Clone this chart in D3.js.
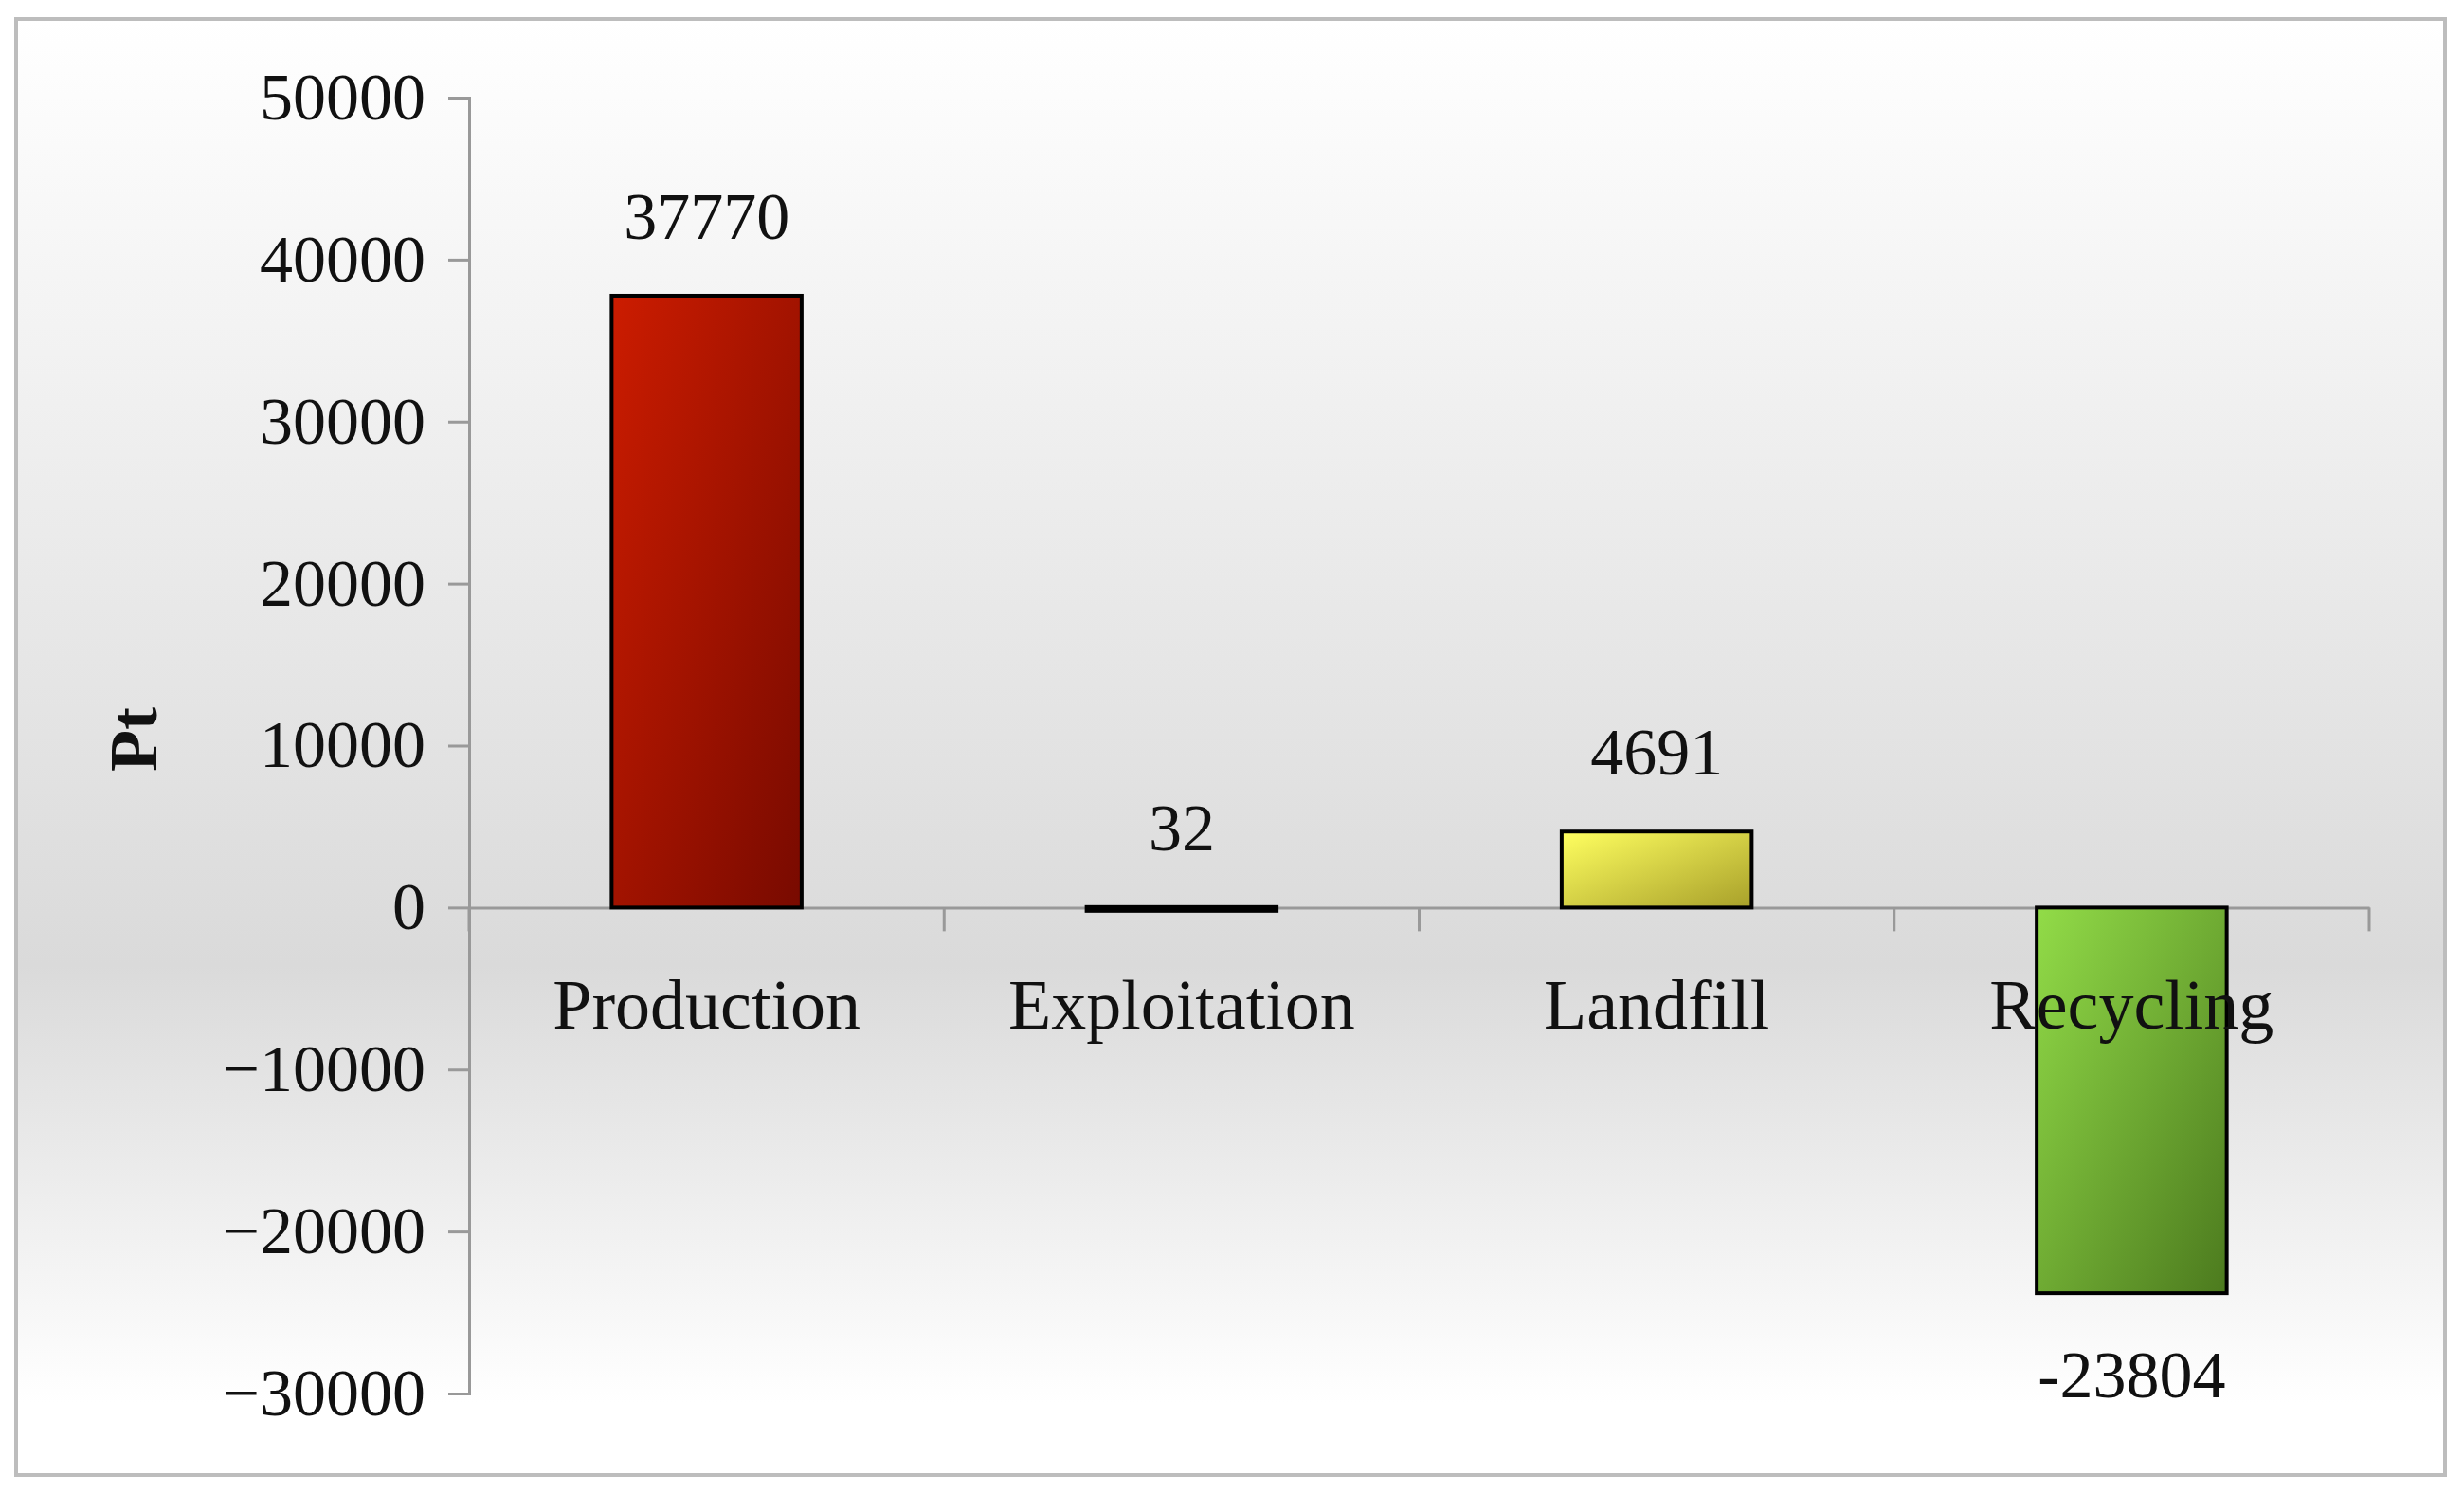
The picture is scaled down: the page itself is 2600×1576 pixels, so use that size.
<!DOCTYPE html>
<html><head><meta charset="utf-8">
<script src="https://cdn.jsdelivr.net/npm/d3@7"></script>
<style>body{margin:0;background:#fff}text{font-family:"Liberation Serif","DejaVu Serif",serif;fill:#111}</style>
</head><body><svg id="c" width="2600" height="1576"></svg>
<script>
const categories=["Production","Exploitation","Landfill","Recycling"];
const values=[37770,32,4691,-23804];
const tickValues=[50000,40000,30000,20000,10000,0,-10000,-20000,-30000];
const colorsLight=["#cc1c00","#555555","#ffff60","#92dc48"];
const colorsDark=["#780a00","#111111","#a8a02a","#4c7a1e"];

const svg=d3.select("#c");
const defs=svg.append("defs");
const bg=defs.append("linearGradient").attr("id","bg").attr("x1",0).attr("y1",0).attr("x2",0).attr("y2",1);
bg.append("stop").attr("offset","0%").attr("stop-color","#ffffff");
bg.append("stop").attr("offset","65%").attr("stop-color","#dadada");
bg.append("stop").attr("offset","95%").attr("stop-color","#ffffff");
svg.append("rect").attr("x",17).attr("y",20).attr("width",2563).attr("height",1536)
  .attr("fill","url(#bg)").attr("stroke","#bdbdbd").attr("stroke-width",4);

const y=d3.scaleLinear().domain([-30000,50000]).range([1470,103]);
const x=d3.scaleBand().domain(categories).range([495,2500]).paddingInner(0.6).paddingOuter(0.3);

categories.forEach((c,i)=>{
  const g=defs.append("linearGradient").attr("id","g"+i).attr("x1",0).attr("y1",0).attr("x2",1).attr("y2",1);
  g.append("stop").attr("offset","0%").attr("stop-color",colorsLight[i]);
  g.append("stop").attr("offset","100%").attr("stop-color",colorsDark[i]);
});

// y axis
const ya=svg.append("g").attr("transform","translate(495,0)")
  .call(d3.axisLeft(y).tickValues(tickValues).tickSize(22).tickPadding(24).tickFormat(d3.format("d")));
ya.select(".domain").attr("stroke","#999").attr("stroke-width",3);
ya.selectAll(".tick line").attr("stroke","#999").attr("stroke-width",3);
ya.selectAll(".tick text").style("font-size","70px").attr("fill","#111");

// x axis at zero
const xa=svg.append("g").attr("transform",`translate(0,${y(0)})`)
  .call(d3.axisBottom(x).tickSize(0).tickFormat(""));
xa.select(".domain").attr("stroke","#999").attr("stroke-width",3);
const step=x.step();
svg.append("g").selectAll("line").data(d3.range(categories.length+1)).join("line")
  .attr("x1",d=>495+d*(2005/4)).attr("x2",d=>495+d*(2005/4))
  .attr("y1",y(0)).attr("y2",y(0)+25).attr("stroke","#999").attr("stroke-width",3);

// bars
svg.append("g").selectAll("rect").data(values).join("rect")
  .attr("x",(d,i)=>x(categories[i])).attr("width",x.bandwidth())
  .attr("y",d=>y(Math.max(0,d))).attr("height",d=>Math.max(Math.abs(y(d)-y(0)),4))
  .attr("fill",(d,i)=>`url(#g${i})`).attr("stroke","#000").attr("stroke-width",4);

// category labels
svg.append("g").selectAll("text").data(categories).join("text")
  .attr("x",d=>x(d)+x.bandwidth()/2).attr("y",y(0)+128).attr("text-anchor","middle")
  .style("font-size","74px").text(d=>d);

// value labels
svg.append("g").selectAll("text").data(values).join("text")
  .attr("x",(d,i)=>x(categories[i])+x.bandwidth()/2)
  .attr("y",d=>d>=0?y(d)-60:y(d)+110).attr("text-anchor","middle")
  .style("font-size","70px").text(d=>d);

svg.append("text").attr("transform","translate(165,780) rotate(-90)").attr("text-anchor","middle")
  .style("font-size","72px").style("font-weight","bold").text("Pt");
</script></body></html>
